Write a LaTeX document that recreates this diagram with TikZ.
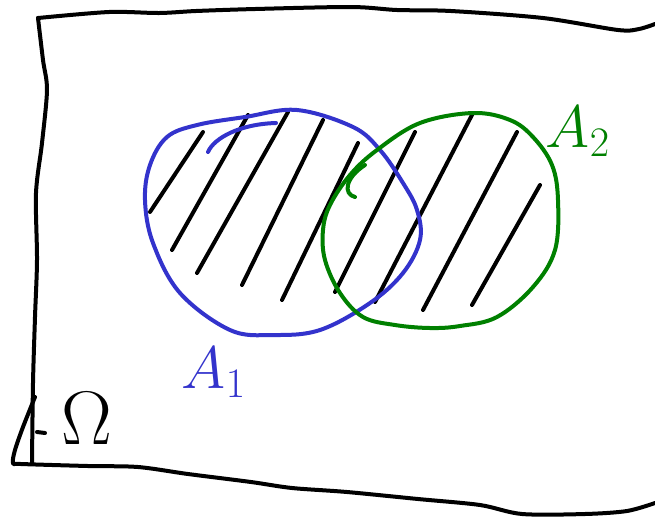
\RequirePackage{fix-cm}
\documentclass[tikz,border=0pt]{standalone}
\usepackage{amsmath,amssymb}
\usepackage{xcolor}
\usetikzlibrary{positioning}
\definecolor{penblack}{RGB}{0,0,0}
\definecolor{penblue}{RGB}{51,51,204}
\definecolor{pengreen}{RGB}{0,128,0}
\tikzset{
  pen/.style={line width=2pt, line cap=round, line join=round},
  frameline/.style={pen, draw=penblack},
  hatchline/.style={pen, draw=penblack},
  setone/.style={pen, draw=penblue},
  settwo/.style={pen, draw=pengreen},
  setlbl/.style={inner sep=0pt, font=\fontsize{30}{32}\selectfont},
}

\begin{document}
\begin{tikzpicture}[x=0.5pt, y=-0.5pt]
\useasboundingbox (0,0) rectangle (655,516);
% frame Omega
\draw[frameline] plot[smooth, tension=0.5] coordinates {
  (655,24) (639,29) (618,30) (543,18) (451,11) (397,10) (351,7)
  (255,9) (196,11) (159,13) (109,12) (38,18)};
\draw[frameline] plot[smooth, tension=0.5] coordinates {
  (38,18) (43,60) (47,90) (42,143) (36,193) (37,260) (35,317)
  (33,383) (32,463)};
\draw[frameline] plot[smooth, tension=0.5] coordinates {
  (35,397) (23,427) (15,450) (13,463) (21,464) (88,466) (138,467)
  (188,474) (251,482) (292,488) (347,492) (418,499) (480,505)
  (522,514) (585,514) (627,511) (655,503)};
\draw[frameline] (37,432) -- (45,433);
\node[setlbl, font=\fontsize{38}{40}\selectfont] (omega) at (87,419) {$\Omega$};
% hatching of the union
\foreach \xa/\ya/\xb/\yb in {150/212/203/132, 172/250/248/115,
    197/273/288/112, 242/285/323/120, 282/300/358/143,
    335/292/415/132, 375/302/473/113, 423/310/517/132,
    472/305/540/185}
  \draw[hatchline] (\xa,\ya) -- (\xb,\yb);
% set A1
\draw[setone] plot[smooth cycle, tension=0.6] coordinates {
  (297,110) (353,127) (380,150) (403,183) (417,210) (420,240)
  (403,273) (370,303) (320,330) (273,335) (230,330) (180,293)
  (153,243) (145,200) (150,165) (167,137) (197,125) (245,117)};
\draw[setone] (208,152) .. controls (214,138) and (240,124) .. (276,123);
\node[setlbl, text=penblue] (labelA1) at (214,372) {$A_1$};
% set A2
\draw[settwo] plot[smooth cycle, tension=0.6] coordinates {
  (473,113) (510,120) (533,137) (552,165) (558,200) (555,250)
  (533,287) (497,317) (460,326) (430,328) (395,325) (363,317)
  (340,293) (325,260) (323,230) (330,205) (350,175) (377,150)
  (420,123)};
\draw[settwo] (355,197) .. controls (343,194) and (345,178) .. (365,165);
\node[setlbl, text=pengreen] (labelA2) at (578,131) {$A_2$};
\end{tikzpicture}
\end{document}
